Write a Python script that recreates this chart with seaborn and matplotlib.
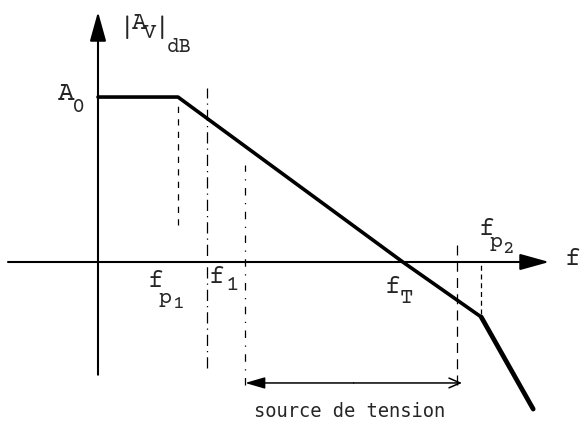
import seaborn as sns
import matplotlib.pyplot as plt

# diagramme de Bode asymptotique (f en decades, gain en dB)
gain_f = [0.0, 1.0, 3.81, 4.79]
gain_db = [60, 60, 0, -20]
pole2_f = [4.79, 5.44]
pole2_db = [-20, -53.5]

# traits de rappel verticaux
guide_f = [1.0, 1.36, 1.84, 4.49, 4.79]
guide_top = [58.9, 63.3, 35.3, 6.2, 0.0]
guide_bot = [13.5, -38.5, -44.7, -44.7, -19.0]
guide_ls = [(0, (5, 5)), (0, (9, 4, 1, 4)), (0, (6, 6, 1, 6)), (0, (8, 5)), (0, (4, 3))]

# plage "source de tension"
source_f = [1.84, 4.55]
source_db = -44

sns.set_style("white")
plt.rcParams['font.family'] = ['Courier Prime', 'FreeMono', 'DejaVu Sans Mono']

fig = plt.figure(figsize=(5.8, 4.22), dpi=100)
ax = fig.add_axes([0, 0, 1, 1])
ax.set_xlim(-1.225, 6.025)
ax.set_ylim(-58.2, 95.3)
ax.axis('off')

# axes avec fleches
arrow = dict(arrowstyle='-|>,head_length=1.8,head_width=0.5', lw=1.5,
             color='black', shrinkA=0, shrinkB=0, mutation_scale=10)
ax.annotate('', xy=(5.64, 0), xytext=(-1.125, 0), arrowprops=arrow)
ax.annotate('', xy=(0, 91), xytext=(0, -41), arrowprops=arrow)

sns.lineplot(x=gain_f, y=gain_db, color='black', lw=2.6, ax=ax, sort=False)
sns.lineplot(x=pole2_f, y=pole2_db, color='black', lw=3.4, ax=ax, sort=False)

for f, top, bot, ls in zip(guide_f, guide_top, guide_bot, guide_ls):
    ax.plot([f, f], [bot, top], color='black', lw=0.9, linestyle=ls)

mid = sum(source_f) / 2
ax.annotate('', xy=(source_f[0], source_db), xytext=(mid, source_db),
            arrowprops=dict(arrowstyle='-|>,head_length=1.2,head_width=0.35', lw=1.1,
                            color='black', shrinkA=0, shrinkB=0, mutation_scale=10))
ax.annotate('', xy=(source_f[1], source_db), xytext=(mid, source_db),
            arrowprops=dict(arrowstyle='->,head_length=0.8,head_width=0.35', lw=1.1,
                            color='black', shrinkA=0, shrinkB=0, mutation_scale=10))
ax.text(mid - 0.055, -56.4, 'source de tension', ha='center', va='baseline',
        fontsize=13.5, family='DejaVu Sans Mono')


def label(x, y, parts):
    # parts: (texte, decalage x px, decalage y px, taille[, alignement])
    for part in parts:
        txt, dx, dy, size = part[:4]
        ha = part[4] if len(part) > 4 else 'left'
        ax.annotate(txt, (x, y), xytext=(dx * 0.72, -dy * 0.72), textcoords='offset points',
                    fontsize=size, ha=ha, va='baseline')


label(-0.5, 58.9, [('A', 0, 0, 20), ('0', 14, 12, 16)])
label(0.3625, 84.7, [('|', 0, 4.5, 20, 'center'), ('A', 5, 0, 18), ('V', 16, 9, 16),
                     ('|', 35, 4.5, 20, 'center'), ('dB', 40, 23, 15)])
label(0.625, -9.09, [('f', 0, 0, 19), ('p', 11, 16, 16), ('1', 25, 21, 14)])
label(1.3875, -7.64, [('f', 0, 0, 19), ('1', 17, 7, 16)])
label(3.5875, -11.27, [('f', 0, 0, 19), ('T', 15, 10, 16)])
label(4.7625, 9.82, [('f', 0, 0, 19), ('p', 11, 12, 16), ('2', 23, 18, 14)])
label(5.8375, -1.09, [('f', 0, 0, 19)])

fig.savefig('out.png', dpi=100)
